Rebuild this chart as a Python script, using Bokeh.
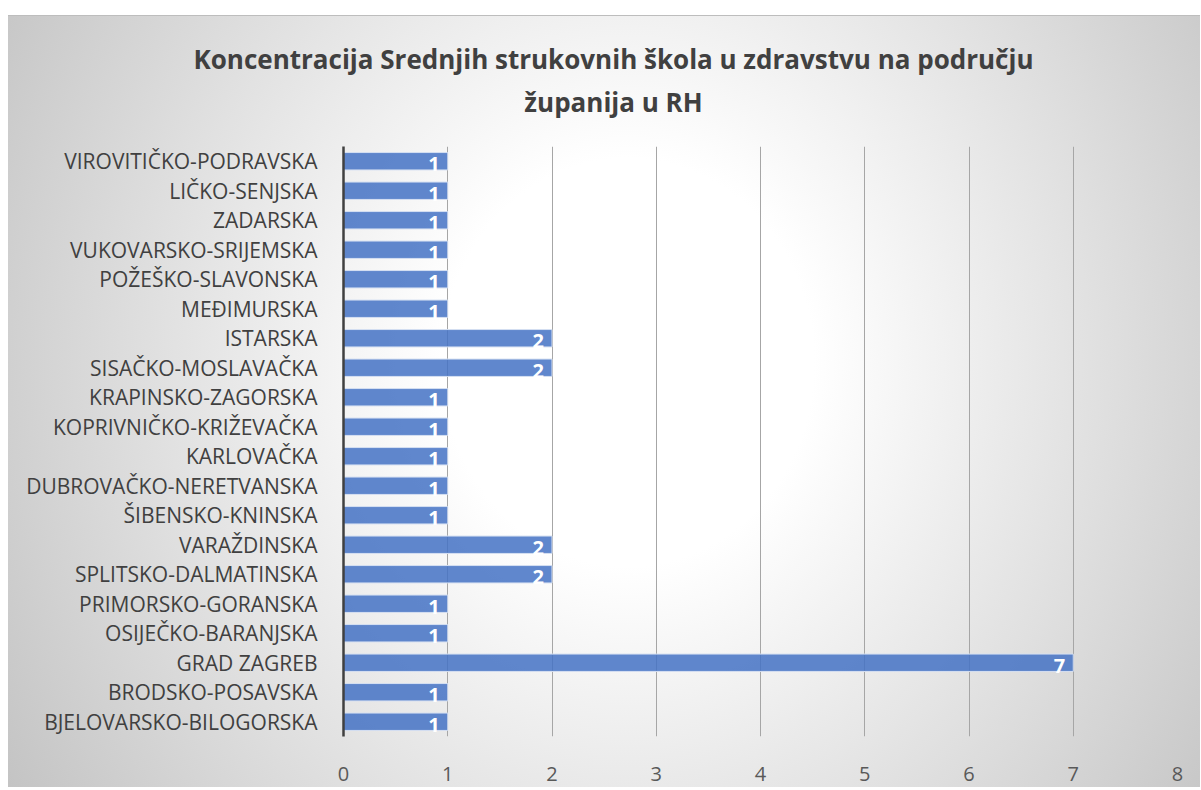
from bokeh.plotting import figure
from bokeh.models import FactorRange, Range1d, FixedTicker
from bokeh.core.properties import value
from bokeh.embed import file_html
from bokeh.resources import INLINE

categories = [
    "VIROVITIČKO-PODRAVSKA", "LIČKO-SENJSKA", "ZADARSKA", "VUKOVARSKO-SRIJEMSKA",
    "POŽEŠKO-SLAVONSKA", "MEĐIMURSKA", "ISTARSKA", "SISAČKO-MOSLAVAČKA",
    "KRAPINSKO-ZAGORSKA", "KOPRIVNIČKO-KRIŽEVAČKA", "KARLOVAČKA",
    "DUBROVAČKO-NERETVANSKA", "ŠIBENSKO-KNINSKA", "VARAŽDINSKA",
    "SPLITSKO-DALMATINSKA", "PRIMORSKO-GORANSKA", "OSIJEČKO-BARANJSKA",
    "GRAD ZAGREB", "BRODSKO-POSAVSKA", "BJELOVARSKO-BILOGORSKA",
]
counts = [1, 1, 1, 1, 1, 1, 2, 2, 1, 1, 1, 1, 1, 2, 2, 1, 1, 7, 1, 1]
x_ticks = [0, 1, 2, 3, 4, 5, 6, 7, 8]
title_lines = ["Koncentracija Srednjih strukovnih škola u zdravstvu na području",
               "županija u RH"]

W, H = 1192, 772
bg = ("linear-gradient(#bdbdbd, #bdbdbd) top / 100% 1px no-repeat, "
      "radial-gradient(ellipse 65% 110% at 52% 45%, #ffffff 24%, #bfbfbf 100%)")

p = figure(width=W, height=H, output_backend="svg", toolbar_location=None,
           y_range=FactorRange(factors=list(reversed(categories)), range_padding=0),
           x_range=Range1d(0, 8),
           min_border_left=335, min_border_right=23, min_border_top=131,
           min_border_bottom=51,
           styles={"margin-top": "15px", "margin-left": "8px", "background": bg})
p.background_fill_color = None
p.border_fill_color = None
p.outline_line_color = None

p.hbar(y=categories, right=counts, left=0, height=0.59,
       fill_color="#4472C4", fill_alpha=0.85,
       line_color="#d6e0f2", line_width=1)

p.text(x=counts, y=categories, text=[str(c) for c in counts],
       text_font=value("Open Sans"), text_font_size=value("20px"),
       text_font_style="bold", text_color="white",
       text_align="right", text_baseline="middle", x_offset=-8, y_offset=3)

p.xgrid.grid_line_color = "#a6a6a6"
p.xgrid.grid_line_width = 1
p.xgrid.ticker = FixedTicker(ticks=x_ticks)
p.ygrid.grid_line_color = None

p.xaxis.ticker = FixedTicker(ticks=x_ticks)
p.xaxis.axis_line_color = None
p.xaxis.major_tick_line_color = None
p.xaxis.minor_tick_line_color = None
p.xaxis.major_label_text_font = "Open Sans"
p.xaxis.major_label_text_font_size = "20px"
p.xaxis.major_label_text_color = "#595959"
p.xaxis.major_label_standoff = 24

p.yaxis.axis_line_color = "#404040"
p.yaxis.axis_line_width = 2.5
p.yaxis.major_tick_line_color = None
p.yaxis.minor_tick_line_color = None
p.yaxis.major_label_text_font = "Open Sans"
p.yaxis.major_label_text_font_size = "21px"
p.yaxis.major_label_text_color = "#404040"
p.yaxis.major_label_standoff = 20

# two-line title, lines centred on each other
p.title.text = "\n".join(title_lines)
p.title.text_font = "Open Sans"
p.title.text_font_size = "26px"
p.title.text_font_style = "bold"
p.title.text_color = "#404040"
p.title.align = "left"
p.title.text_align = "center"
p.title.vertical_align = "top"
p.title.offset = -150
p.title.text_line_height = 1.2
p.title.standoff = 50

open("out.html", "w").write(file_html(p, INLINE))
